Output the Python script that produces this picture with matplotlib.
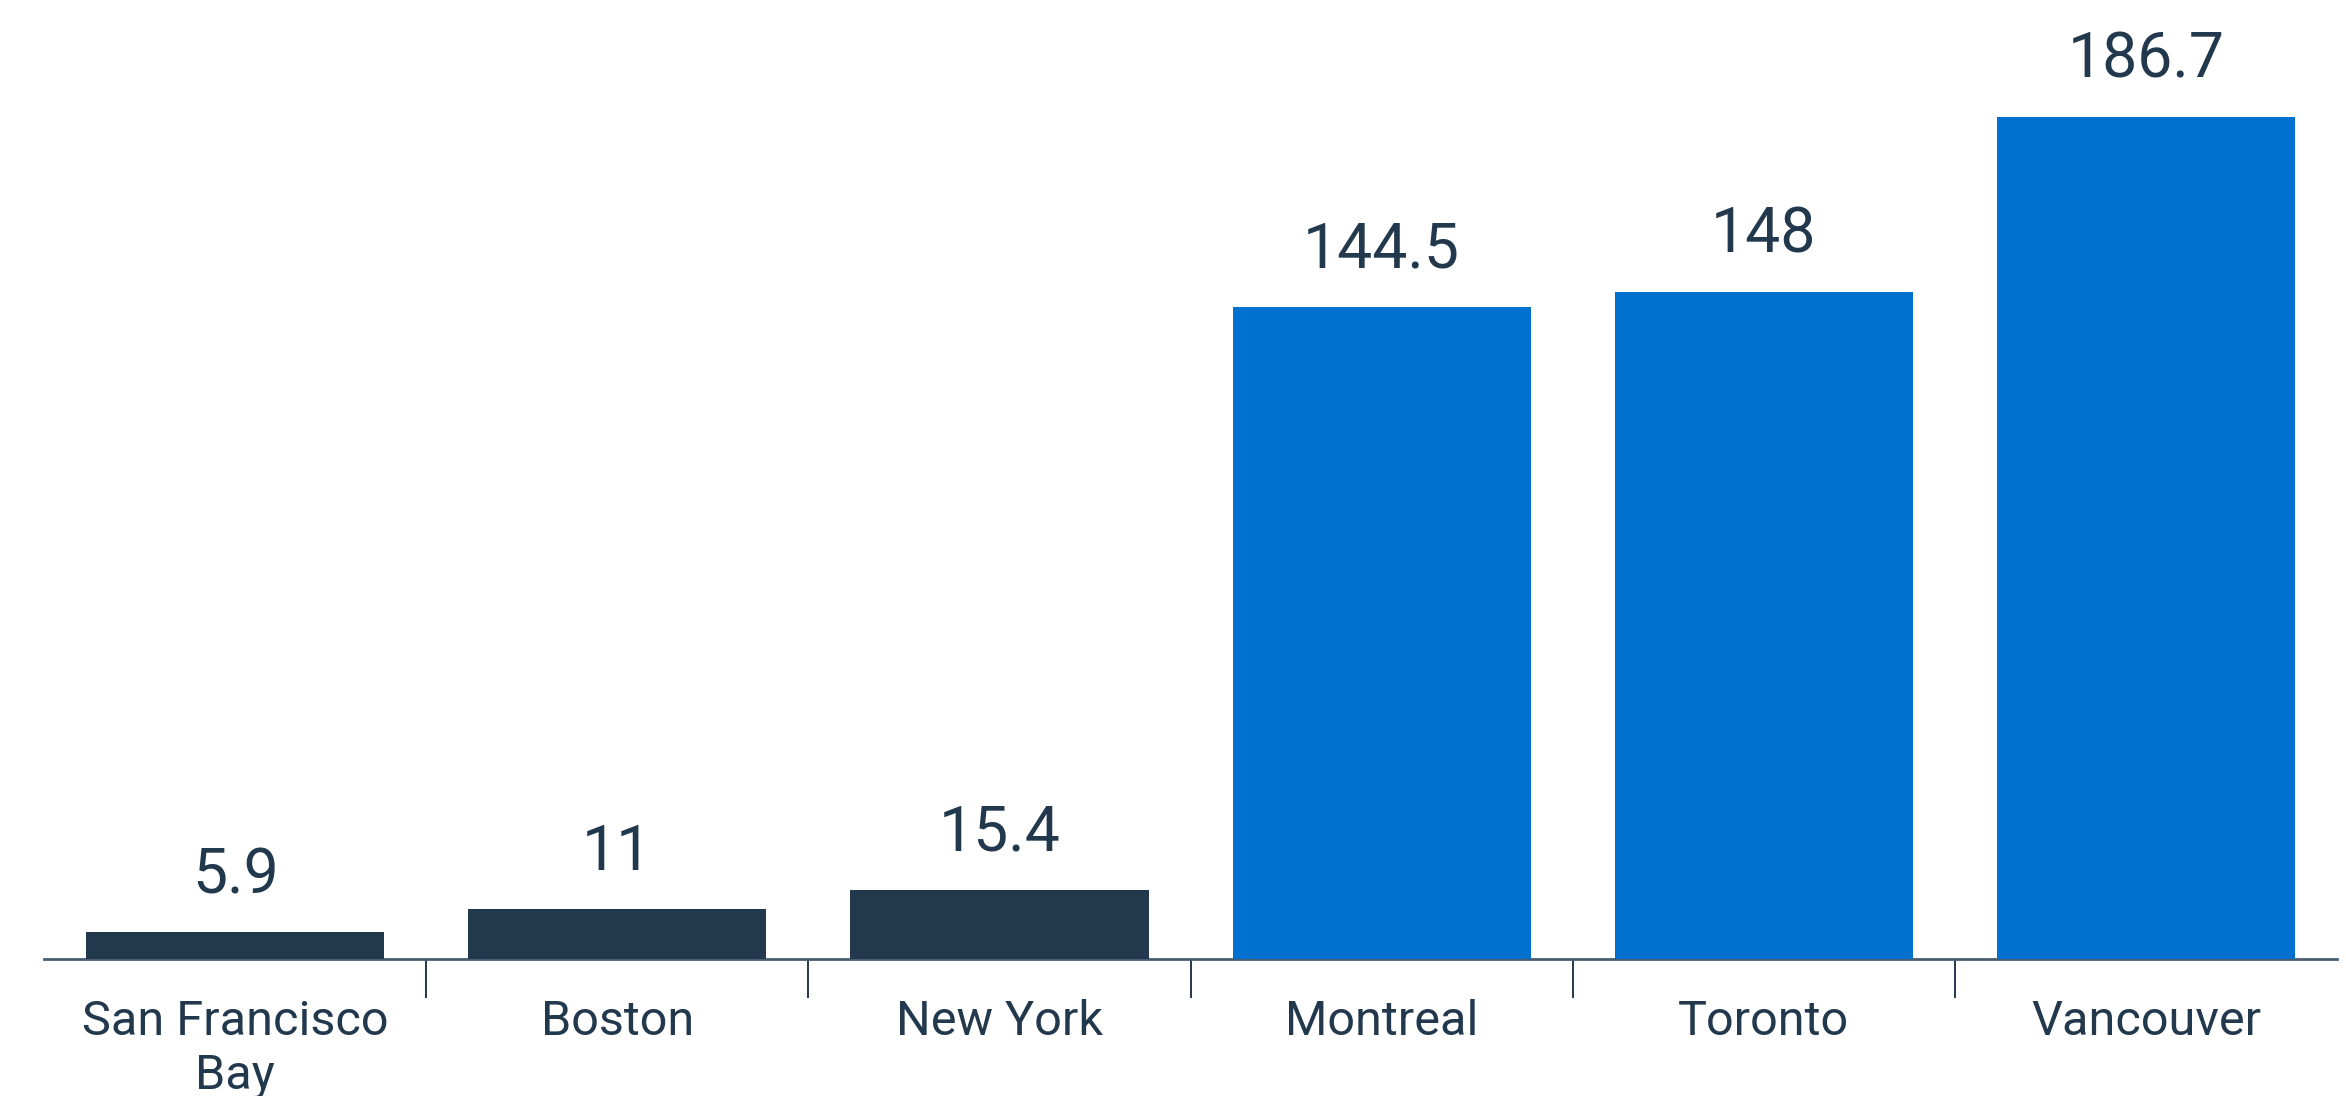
import matplotlib.pyplot as plt
from matplotlib.ticker import FixedLocator

# Data for the chart
cities = ['San Francisco\nBay', 'Boston', 'New York', 'Montreal', 'Toronto', 'Vancouver']
values = [5.9, 11, 15.4, 144.5, 148, 186.7]
bar_colors = ['#22384d', '#22384d', '#22384d', '#0071ce', '#0071ce', '#0071ce']

text_color = '#22384d'
plt.rcParams['font.family'] = ['Roboto', 'DejaVu Sans']

fig = plt.figure(figsize=(23.46, 10.96), dpi=100)
ax = fig.add_axes([0.0188, 0.125, 0.9774, 0.823])

x_pos = list(range(len(cities)))
bars = ax.bar(x_pos, values, width=0.78, color=bar_colors, zorder=3)

# Value labels above each bar
for x, v in zip(x_pos, values):
    ax.annotate(f'{v:g}', xy=(x, v), xytext=(0, 19), textcoords='offset points',
                ha='center', va='bottom', fontsize=45, color=text_color)

ax.set_xlim(-0.5, len(cities) - 0.5)
ax.set_ylim(0, 200)

# Category labels, with separator ticks between bars
ax.set_xticks(x_pos)
ax.set_xticklabels(cities, fontsize=35, color=text_color, linespacing=1.2)
ax.tick_params(axis='x', which='major', length=0, pad=29)
ax.xaxis.set_minor_locator(FixedLocator([i + 0.5 for i in x_pos[:-1]]))
ax.tick_params(axis='x', which='minor', length=28, width=1.4, color=text_color)

ax.set_yticks([])
for side in ['top', 'right', 'left']:
    ax.spines[side].set_visible(False)
ax.spines['bottom'].set_color('#4a5e70')
ax.spines['bottom'].set_linewidth(2)

fig.savefig('out.png', dpi=100)
